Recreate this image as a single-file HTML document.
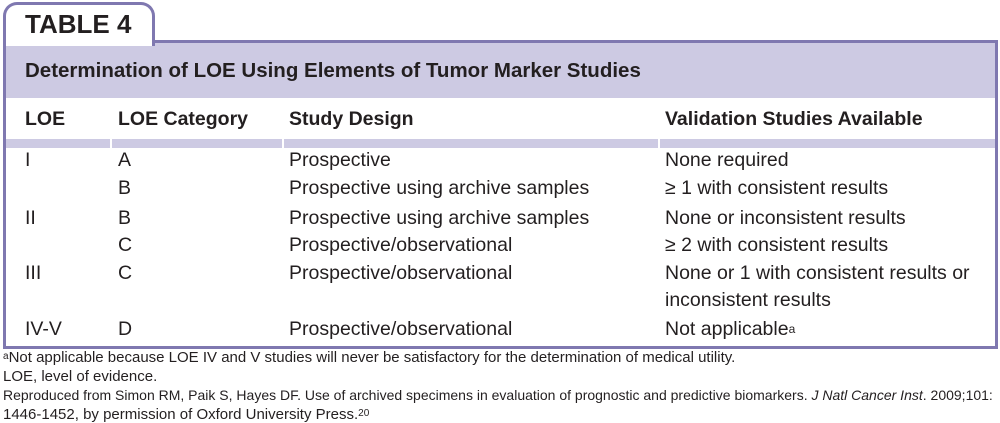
<!DOCTYPE html>
<html><head><style>
body{margin:0;width:1000px;height:423px;background:#fff;font-family:"Liberation Sans",sans-serif;color:#231f20;position:relative;overflow:hidden}
.a{position:absolute;white-space:nowrap}
.tab{position:absolute;left:3px;top:2px;width:152px;height:44px;border:3px solid #7f78b0;border-bottom:none;border-radius:14px 14px 0 0;background:#fff;box-sizing:border-box}
.box{position:absolute;left:3px;top:40px;width:995px;height:309px;border:3px solid #7f78b0;box-sizing:border-box}
.band{position:absolute;left:0;top:0;width:989px;height:55px;background:#cdcae3}
.sep{position:absolute;top:96px;height:9px;background:#cdcae3}
.r{font-size:19.5px}
.f{font-size:15px}
</style></head><body>
<div class="box"><div class="band"></div>
<div class="sep" style="left:0;width:104px"></div>
<div class="sep" style="left:106px;width:170px"></div>
<div class="sep" style="left:278px;width:374px"></div>
<div class="sep" style="left:654px;width:335px"></div>
</div>
<div class="tab"></div>
<div class="a" style="left:25px;top:9px;font-size:26px;font-weight:bold">TABLE 4</div>
<div class="a" style="left:25px;top:59px;font-size:20.5px;font-weight:bold;color:#231f20">Determination of LOE Using Elements of Tumor Marker Studies</div>
<div class="a r" style="left:25px;top:108px;font-weight:bold">LOE</div>
<div class="a r" style="left:118px;top:108px;font-weight:bold">LOE Category</div>
<div class="a r" style="left:289px;top:108px;font-weight:bold">Study Design</div>
<div class="a r" style="left:665px;top:108px;font-weight:bold">Validation Studies Available</div>
<div class="a r" style="left:25px;top:149px">I</div>
<div class="a r" style="left:118px;top:149px">A</div>
<div class="a r" style="left:289px;top:149px">Prospective</div>
<div class="a r" style="left:665px;top:149px">None required</div>
<div class="a r" style="left:118px;top:177px">B</div>
<div class="a r" style="left:289px;top:177px">Prospective using archive samples</div>
<div class="a r" style="left:665px;top:177px">≥ 1 with consistent results</div>
<div class="a r" style="left:25px;top:207px">II</div>
<div class="a r" style="left:118px;top:207px">B</div>
<div class="a r" style="left:289px;top:207px">Prospective using archive samples</div>
<div class="a r" style="left:665px;top:207px">None or inconsistent results</div>
<div class="a r" style="left:118px;top:234px">C</div>
<div class="a r" style="left:289px;top:234px">Prospective/observational</div>
<div class="a r" style="left:665px;top:234px">≥ 2 with consistent results</div>
<div class="a r" style="left:25px;top:262px">III</div>
<div class="a r" style="left:118px;top:262px">C</div>
<div class="a r" style="left:289px;top:262px">Prospective/observational</div>
<div class="a r" style="left:665px;top:262px">None or 1 with consistent results or</div>
<div class="a r" style="left:665px;top:289px">inconsistent results</div>
<div class="a r" style="left:25px;top:318px">IV-V</div>
<div class="a r" style="left:118px;top:318px">D</div>
<div class="a r" style="left:289px;top:318px">Prospective/observational</div>
<div class="a r" style="left:665px;top:318px">Not applicable<span style="font-size:12px;vertical-align:2px">a</span></div>
<div class="a f" style="left:3px;top:349px"><span style="font-size:10px;vertical-align:3px">a</span>Not applicable because LOE IV and V studies will never be satisfactory for the determination of medical utility.</div>
<div class="a f" style="left:3px;top:368px">LOE, level of evidence.</div>
<div style="position:absolute;left:3px;top:387px;width:989px;font-size:14px;line-height:17px;white-space:nowrap;text-align:justify;text-align-last:justify">Reproduced from Simon RM, Paik S, Hayes DF. Use of archived specimens in evaluation of prognostic and predictive biomarkers. <i>J Natl Cancer Inst</i>. 2009;101:</div>
<div class="a f" style="left:3px;top:406px">1446-1452, by permission of Oxford University Press.<span style="font-size:10px;vertical-align:3px">20</span></div>
</body></html>
